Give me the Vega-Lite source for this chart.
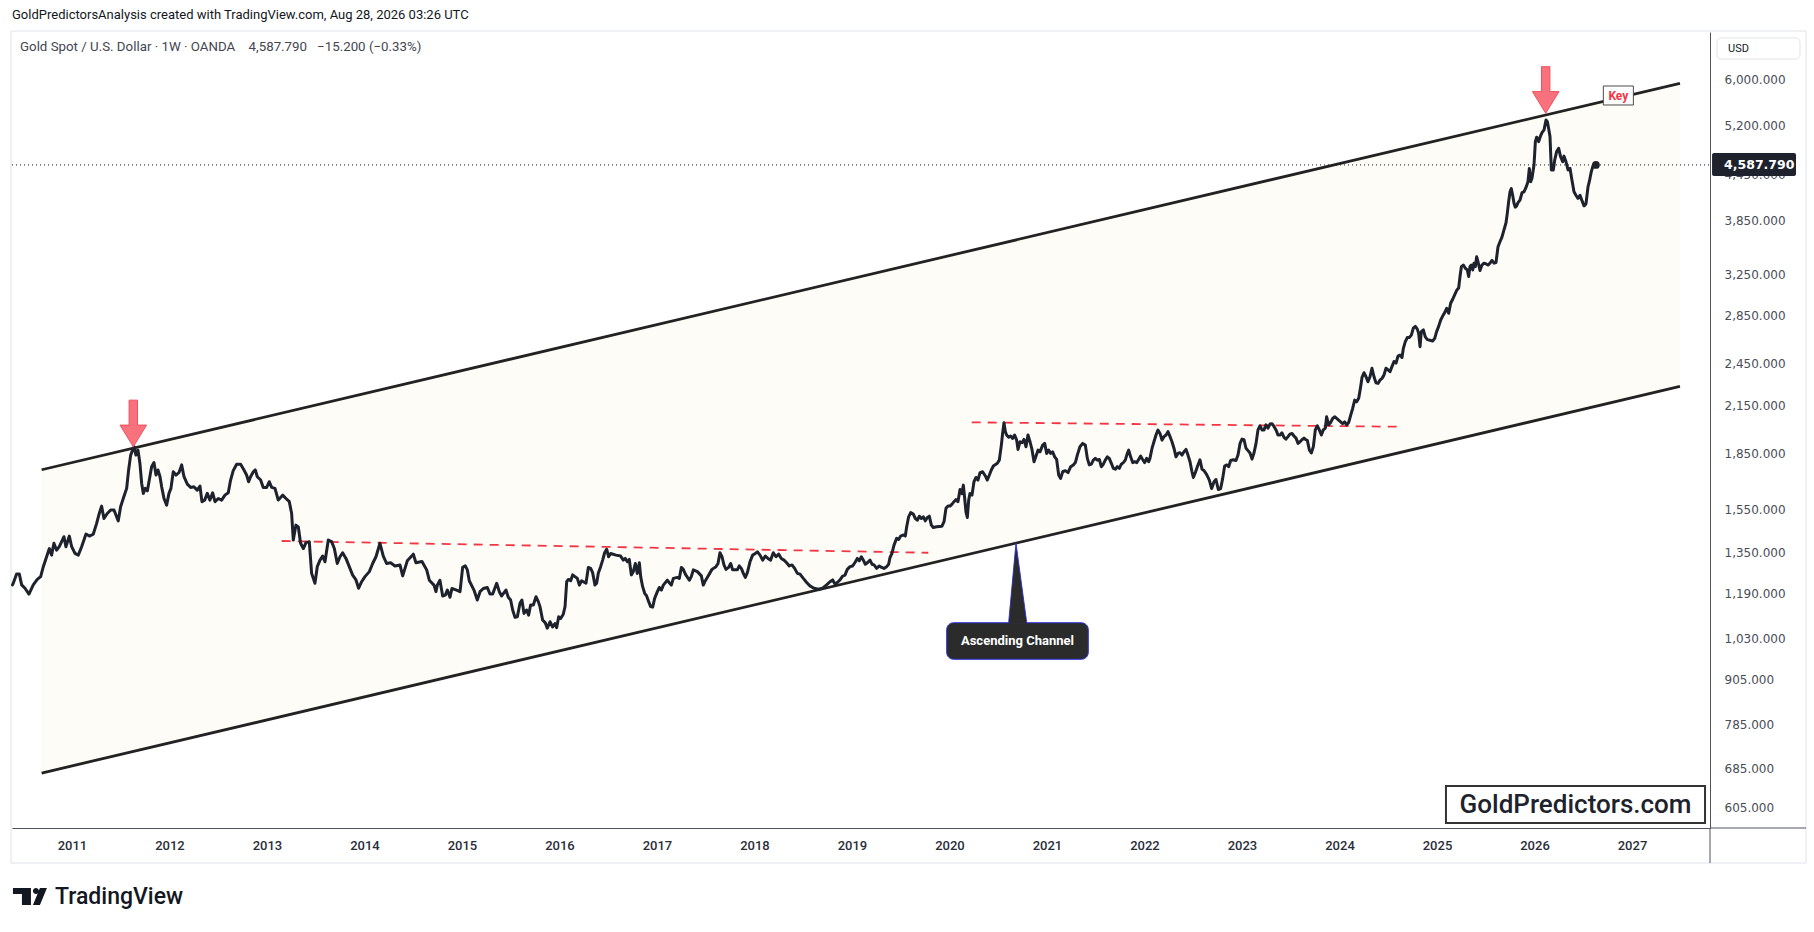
{
  "$schema": "https://vega.github.io/schema/vega-lite/v6.json",
  "width": 1698,
  "height": 796,
  "autosize": {"type": "none"},
  "padding": {"left": 12, "top": 32, "right": 104, "bottom": 104},
  "background": "#ffffff",
  "title": {
    "text": "GoldPredictorsAnalysis created with TradingView.com, Aug 28, 2026 03:26 UTC",
    "anchor": "start", "frame": "group", "offset": 9,
    "font": "Roboto", "fontSize": 13, "fontWeight": "normal", "color": "#131722"
  },
  "config": {"view": {"stroke": null}},
  "encoding": {
    "x": {"field": "year", "type": "quantitative",
      "scale": {"domain": [2010.385, 2027.8], "nice": false, "zero": false},
      "axis": {"title": null, "values": [2011,2012,2013,2014,2015,2016,2017,2018,2019,2020,2021,2022,2023,2024,2025,2026,2027],
        "format": "d", "grid": false, "ticks": false, "domainColor": "#50535e", "domainWidth": 1,
        "labelPadding": 11, "labelFont": "Roboto", "labelFontSize": 13, "labelFontWeight": 500,
        "labelColor": "#2a2e39", "labelFlush": false, "labelOverlap": false}},
    "y": {"field": "price", "type": "quantitative",
      "scale": {"type": "log", "domain": [567.3, 6976], "nice": false},
      "axis": {"title": null, "orient": "right", "values": [6000,5200,4450,3850,3250,2850,2450,2150,1850,1550,1350,1190,1030,905,785,685,605],
        "format": ",.3f", "grid": false, "ticks": false, "domainColor": "#50535e", "domainWidth": 1,
        "labelPadding": 14, "labelFont": "DejaVu Sans", "labelFontSize": 12, "labelColor": "#4a4d57",
        "labelAlign": "left", "labelOverlap": false, "labelFlush": false}}
  },
  "layer": [
    {
      "data": {"values": [{"year": 2010.375, "year2": 2028.785, "price": 6998, "price2": 508}]},
      "mark": {"type": "rect", "fill": "transparent", "stroke": "#e0e3eb", "strokeWidth": 1},
      "encoding": {"x2": {"field": "year2"}, "y2": {"field": "price2"}}
    },
    {
      "data": {"values": [{"year": 2010.689, "price": 1755, "price2": 674.6}, {"year": 2027.492, "price": 5934, "price2": 2282}]},
      "mark": {"type": "area", "color": "#fefcf7", "opacity": 1},
      "encoding": {"y2": {"field": "price2"}}
    },
    {
      "data": {"values": [
        {"edge": "upper", "year": 2010.689, "price": 1755}, {"edge": "upper", "year": 2027.492, "price": 5934},
        {"edge": "lower", "year": 2010.689, "price": 674.6}, {"edge": "lower", "year": 2027.492, "price": 2282}]},
      "mark": {"type": "line", "color": "#222222", "strokeWidth": 2.8},
      "encoding": {"detail": {"field": "edge"}}
    },
    {
      "data": {"values": [
        {"seg": "a", "year": 2013.151, "price": 1402}, {"seg": "a", "year": 2019.783, "price": 1351},
        {"seg": "b", "year": 2020.228, "price": 2038}, {"seg": "b", "year": 2024.603, "price": 2010}]},
      "mark": {"type": "line", "color": "#f23645", "strokeWidth": 1.8, "strokeDash": [9, 7]},
      "encoding": {"detail": {"field": "seg"}}
    },
    {
      "data": {"values": [{"year": 2010.385, "year2": 2027.8, "price": 4587.79}]},
      "mark": {"type": "rule", "color": "#131722", "strokeWidth": 1, "strokeDash": [1, 3]},
      "encoding": {"x2": {"field": "year2"}}
    },
    {
      "data": {"values": [
{"year":2010.39,"price":1221},{"year":2010.398,"price":1227},{"year":2010.432,"price":1263},{"year":2010.46,"price":1263},{"year":2010.484,"price":1221},{"year":2010.518,"price":1208},{"year":2010.559,"price":1186},{"year":2010.603,"price":1221},{"year":2010.644,"price":1242},{"year":2010.679,"price":1253},{"year":2010.706,"price":1293},{"year":2010.74,"price":1334},{"year":2010.768,"price":1369},{"year":2010.791,"price":1341},{"year":2010.815,"price":1392},{"year":2010.843,"price":1362},{"year":2010.87,"price":1377},{"year":2010.894,"price":1399},{"year":2010.918,"price":1421},{"year":2010.938,"price":1377},{"year":2010.973,"price":1424},{"year":2010.997,"price":1377},{"year":2011.031,"price":1348},{"year":2011.065,"price":1341},{"year":2011.099,"price":1377},{"year":2011.144,"price":1433},{"year":2011.178,"price":1424},{"year":2011.219,"price":1433},{"year":2011.253,"price":1482},{"year":2011.28,"price":1529},{"year":2011.304,"price":1565},{"year":2011.328,"price":1505},{"year":2011.362,"price":1529},{"year":2011.397,"price":1546},{"year":2011.431,"price":1546},{"year":2011.458,"price":1513},{"year":2011.475,"price":1494},{"year":2011.499,"price":1562},{"year":2011.526,"price":1603},{"year":2011.561,"price":1655},{"year":2011.581,"price":1754},{"year":2011.602,"price":1838},{"year":2011.622,"price":1867},{"year":2011.639,"price":1887},{"year":2011.656,"price":1838},{"year":2011.677,"price":1867},{"year":2011.697,"price":1791},{"year":2011.715,"price":1681},{"year":2011.732,"price":1629},{"year":2011.752,"price":1655},{"year":2011.773,"price":1642},{"year":2011.793,"price":1699},{"year":2011.817,"price":1772},{"year":2011.841,"price":1795},{"year":2011.862,"price":1726},{"year":2011.882,"price":1754},{"year":2011.903,"price":1717},{"year":2011.92,"price":1663},{"year":2011.944,"price":1603},{"year":2011.971,"price":1570},{"year":2011.995,"price":1629},{"year":2012.015,"price":1655},{"year":2012.039,"price":1744},{"year":2012.067,"price":1726},{"year":2012.097,"price":1739},{"year":2012.125,"price":1782},{"year":2012.149,"price":1717},{"year":2012.183,"price":1677},{"year":2012.217,"price":1660},{"year":2012.251,"price":1663},{"year":2012.285,"price":1646},{"year":2012.313,"price":1667},{"year":2012.333,"price":1587},{"year":2012.361,"price":1595},{"year":2012.388,"price":1629},{"year":2012.415,"price":1595},{"year":2012.443,"price":1632},{"year":2012.467,"price":1587},{"year":2012.501,"price":1603},{"year":2012.535,"price":1595},{"year":2012.569,"price":1620},{"year":2012.603,"price":1632},{"year":2012.627,"price":1699},{"year":2012.654,"price":1750},{"year":2012.689,"price":1786},{"year":2012.73,"price":1786},{"year":2012.764,"price":1754},{"year":2012.791,"price":1726},{"year":2012.812,"price":1690},{"year":2012.832,"price":1717},{"year":2012.86,"price":1744},{"year":2012.88,"price":1754},{"year":2012.901,"price":1717},{"year":2012.935,"price":1699},{"year":2012.962,"price":1660},{"year":2012.997,"price":1660},{"year":2013.024,"price":1690},{"year":2013.048,"price":1660},{"year":2013.082,"price":1655},{"year":2013.116,"price":1595},{"year":2013.161,"price":1620},{"year":2013.195,"price":1603},{"year":2013.229,"price":1587},{"year":2013.253,"price":1529},{"year":2013.27,"price":1406},{"year":2013.297,"price":1474},{"year":2013.321,"price":1466},{"year":2013.345,"price":1392},{"year":2013.373,"price":1369},{"year":2013.4,"price":1395},{"year":2013.434,"price":1399},{"year":2013.458,"price":1266},{"year":2013.492,"price":1227},{"year":2013.516,"price":1293},{"year":2013.544,"price":1320},{"year":2013.571,"price":1337},{"year":2013.595,"price":1313},{"year":2013.629,"price":1406},{"year":2013.663,"price":1399},{"year":2013.691,"price":1369},{"year":2013.721,"price":1306},{"year":2013.749,"price":1334},{"year":2013.776,"price":1351},{"year":2013.81,"price":1327},{"year":2013.844,"price":1293},{"year":2013.879,"price":1259},{"year":2013.913,"price":1240},{"year":2013.94,"price":1208},{"year":2013.971,"price":1233},{"year":2014.005,"price":1253},{"year":2014.05,"price":1273},{"year":2014.084,"price":1306},{"year":2014.118,"price":1334},{"year":2014.159,"price":1392},{"year":2014.193,"price":1337},{"year":2014.227,"price":1306},{"year":2014.268,"price":1309},{"year":2014.313,"price":1296},
{"year":2014.364,"price":1300},{"year":2014.392,"price":1256},{"year":2014.439,"price":1317},{"year":2014.501,"price":1345},{"year":2014.528,"price":1309},{"year":2014.59,"price":1314},{"year":2014.638,"price":1280},{"year":2014.665,"price":1239},{"year":2014.713,"price":1220},{"year":2014.733,"price":1195},{"year":2014.747,"price":1220},{"year":2014.774,"price":1239},{"year":2014.802,"price":1179},{"year":2014.829,"price":1182},{"year":2014.85,"price":1201},{"year":2014.877,"price":1174},{"year":2014.897,"price":1207},{"year":2014.945,"price":1201},{"year":2014.98,"price":1195},{"year":2015.007,"price":1290},{"year":2015.034,"price":1296},{"year":2015.055,"price":1280},{"year":2015.075,"price":1237},{"year":2015.123,"price":1201},{"year":2015.157,"price":1164},{"year":2015.185,"price":1195},{"year":2015.219,"price":1207},{"year":2015.26,"price":1211},{"year":2015.287,"price":1186},{"year":2015.315,"price":1186},{"year":2015.356,"price":1227},{"year":2015.383,"price":1195},{"year":2015.407,"price":1179},{"year":2015.451,"price":1201},{"year":2015.475,"price":1174},{"year":2015.499,"price":1164},{"year":2015.52,"price":1128},{"year":2015.544,"price":1102},{"year":2015.568,"price":1104},{"year":2015.595,"price":1152},{"year":2015.615,"price":1164},{"year":2015.636,"price":1116},{"year":2015.663,"price":1128},{"year":2015.684,"price":1110},{"year":2015.704,"price":1146},{"year":2015.732,"price":1146},{"year":2015.759,"price":1176},{"year":2015.783,"price":1158},{"year":2015.8,"price":1140},{"year":2015.827,"price":1093},{"year":2015.855,"price":1083},{"year":2015.875,"price":1065},{"year":2015.903,"price":1087},{"year":2015.93,"price":1069},{"year":2015.954,"price":1081},{"year":2015.971,"price":1067},{"year":2015.992,"price":1104},{"year":2016.012,"price":1098},{"year":2016.039,"price":1113},{"year":2016.057,"price":1140},{"year":2016.074,"price":1233},{"year":2016.091,"price":1242},{"year":2016.115,"price":1237},{"year":2016.135,"price":1260},{"year":2016.159,"price":1253},{"year":2016.183,"price":1246},{"year":2016.204,"price":1220},{"year":2016.227,"price":1237},{"year":2016.272,"price":1227},{"year":2016.296,"price":1290},{"year":2016.32,"price":1286},{"year":2016.34,"price":1269},{"year":2016.364,"price":1220},{"year":2016.381,"price":1227},{"year":2016.398,"price":1266},{"year":2016.422,"price":1293},{"year":2016.443,"price":1320},{"year":2016.463,"price":1351},{"year":2016.484,"price":1366},{"year":2016.504,"price":1334},{"year":2016.525,"price":1348},{"year":2016.58,"price":1341},{"year":2016.627,"price":1337},{"year":2016.655,"price":1320},{"year":2016.675,"price":1327},{"year":2016.696,"price":1313},{"year":2016.716,"price":1323},{"year":2016.737,"price":1260},{"year":2016.757,"price":1273},{"year":2016.778,"price":1306},{"year":2016.798,"price":1266},{"year":2016.819,"price":1309},{"year":2016.833,"price":1253},{"year":2016.853,"price":1214},{"year":2016.874,"price":1189},{"year":2016.894,"price":1179},{"year":2016.915,"price":1158},{"year":2016.935,"price":1140},{"year":2016.956,"price":1138},{"year":2016.976,"price":1170},{"year":2017.004,"price":1195},{"year":2017.024,"price":1211},{"year":2017.045,"price":1201},{"year":2017.065,"price":1220},{"year":2017.106,"price":1239},{"year":2017.127,"price":1229},{"year":2017.147,"price":1220},{"year":2017.168,"price":1246},{"year":2017.209,"price":1250},{"year":2017.229,"price":1246},{"year":2017.25,"price":1290},{"year":2017.27,"price":1282},{"year":2017.291,"price":1263},{"year":2017.332,"price":1239},{"year":2017.352,"price":1253},{"year":2017.373,"price":1280},{"year":2017.414,"price":1273},{"year":2017.455,"price":1256},{"year":2017.475,"price":1220},{"year":2017.496,"price":1237},{"year":2017.516,"price":1250},{"year":2017.564,"price":1282},{"year":2017.605,"price":1293},{"year":2017.626,"price":1306},{"year":2017.646,"price":1351},{"year":2017.667,"price":1334},{"year":2017.687,"price":1300},{"year":2017.708,"price":1282},{"year":2017.735,"price":1290},{"year":2017.756,"price":1306},{"year":2017.776,"price":1280},{"year":2017.824,"price":1280},{"year":2017.844,"price":1296},{"year":2017.865,"price":1286},{"year":2017.886,"price":1266},{"year":2017.906,"price":1250},{"year":2017.927,"price":1269},{"year":2017.954,"price":1313},{"year":2017.981,"price":1341},{"year":2018.009,"price":1348},{"year":2018.029,"price":1355},{"year":2018.057,"price":1341},{"year":2018.084,"price":1320},{"year":2018.111,"price":1337},{"year":2018.138,"price":1327},{"year":2018.166,"price":1320},{"year":2018.193,"price":1351},{"year":2018.221,"price":1334},{"year":2018.248,"price":1345},{"year":2018.275,"price":1327},{"year":2018.303,"price":1320},{"year":2018.33,"price":1309},{"year":2018.357,"price":1296},{"year":2018.385,"price":1300},{"year":2018.412,"price":1286},{"year":2018.44,"price":1266},
{"year":2018.467,"price":1263},{"year":2018.501,"price":1246},{"year":2018.535,"price":1230},{"year":2018.569,"price":1217},{"year":2018.61,"price":1208},{"year":2018.655,"price":1204},{"year":2018.699,"price":1208},{"year":2018.74,"price":1221},{"year":2018.774,"price":1233},{"year":2018.802,"price":1240},{"year":2018.826,"price":1224},{"year":2018.85,"price":1230},{"year":2018.877,"price":1240},{"year":2018.904,"price":1255},{"year":2018.928,"price":1259},{"year":2018.952,"price":1282},{"year":2018.98,"price":1293},{"year":2019.007,"price":1296},{"year":2019.031,"price":1310},{"year":2019.055,"price":1327},{"year":2019.075,"price":1317},{"year":2019.096,"price":1334},{"year":2019.116,"price":1320},{"year":2019.137,"price":1303},{"year":2019.161,"price":1310},{"year":2019.185,"price":1320},{"year":2019.205,"price":1303},{"year":2019.226,"price":1300},{"year":2019.253,"price":1286},{"year":2019.28,"price":1296},{"year":2019.304,"price":1290},{"year":2019.328,"price":1286},{"year":2019.356,"price":1293},{"year":2019.376,"price":1303},{"year":2019.39,"price":1331},{"year":2019.41,"price":1348},{"year":2019.431,"price":1384},{"year":2019.458,"price":1414},{"year":2019.479,"price":1409},{"year":2019.499,"price":1424},{"year":2019.527,"price":1429},{"year":2019.547,"price":1424},{"year":2019.561,"price":1466},{"year":2019.581,"price":1513},{"year":2019.602,"price":1533},{"year":2019.629,"price":1526},{"year":2019.65,"price":1505},{"year":2019.67,"price":1497},{"year":2019.691,"price":1516},{"year":2019.711,"price":1505},{"year":2019.732,"price":1513},{"year":2019.752,"price":1494},{"year":2019.773,"price":1510},{"year":2019.793,"price":1516},{"year":2019.814,"price":1474},{"year":2019.834,"price":1463},{"year":2019.868,"price":1466},{"year":2019.923,"price":1469},{"year":2019.944,"price":1490},{"year":2019.964,"price":1554},{"year":2019.985,"price":1565},{"year":2020.005,"price":1565},{"year":2020.026,"price":1575},{"year":2020.046,"price":1587},{"year":2020.067,"price":1598},{"year":2020.087,"price":1587},{"year":2020.108,"price":1649},{"year":2020.128,"price":1628},{"year":2020.142,"price":1672},{"year":2020.156,"price":1603},{"year":2020.169,"price":1537},{"year":2020.183,"price":1510},{"year":2020.197,"price":1595},{"year":2020.21,"price":1628},{"year":2020.231,"price":1620},{"year":2020.251,"price":1690},{"year":2020.272,"price":1713},{"year":2020.292,"price":1699},{"year":2020.313,"price":1739},{"year":2020.34,"price":1744},{"year":2020.368,"price":1721},{"year":2020.388,"price":1699},{"year":2020.409,"price":1726},{"year":2020.429,"price":1754},{"year":2020.45,"price":1776},{"year":2020.491,"price":1791},{"year":2020.511,"price":1809},{"year":2020.532,"price":1897},{"year":2020.545,"price":1968},{"year":2020.559,"price":2035},{"year":2020.573,"price":1979},{"year":2020.586,"price":1958},{"year":2020.607,"price":1944},{"year":2020.627,"price":1952},{"year":2020.648,"price":1937},{"year":2020.668,"price":1958},{"year":2020.689,"price":1927},{"year":2020.703,"price":1871},{"year":2020.723,"price":1917},{"year":2020.744,"price":1911},{"year":2020.764,"price":1931},{"year":2020.785,"price":1887},{"year":2020.805,"price":1958},{"year":2020.826,"price":1917},{"year":2020.846,"price":1871},{"year":2020.867,"price":1800},{"year":2020.887,"price":1832},{"year":2020.908,"price":1867},{"year":2020.928,"price":1857},{"year":2020.956,"price":1897},{"year":2020.976,"price":1907},{"year":2020.997,"price":1848},{"year":2021.017,"price":1867},{"year":2021.038,"price":1848},{"year":2021.058,"price":1857},{"year":2021.079,"price":1828},{"year":2021.099,"price":1813},{"year":2021.12,"price":1726},{"year":2021.14,"price":1708},{"year":2021.161,"price":1744},{"year":2021.188,"price":1750},{"year":2021.216,"price":1739},{"year":2021.243,"price":1772},{"year":2021.27,"price":1782},{"year":2021.291,"price":1795},{"year":2021.311,"price":1838},{"year":2021.338,"price":1887},{"year":2021.366,"price":1907},{"year":2021.393,"price":1897},{"year":2021.414,"price":1819},{"year":2021.434,"price":1782},{"year":2021.455,"price":1786},{"year":2021.475,"price":1809},{"year":2021.496,"price":1819},{"year":2021.516,"price":1809},{"year":2021.537,"price":1813},{"year":2021.557,"price":1772},{"year":2021.578,"price":1786},{"year":2021.598,"price":1809},{"year":2021.619,"price":1828},{"year":2021.639,"price":1819},{"year":2021.66,"price":1791},{"year":2021.68,"price":1763},{"year":2021.701,"price":1758},{"year":2021.721,"price":1772},{"year":2021.742,"price":1763},{"year":2021.762,"price":1786},{"year":2021.783,"price":1795},{"year":2021.803,"price":1809},{"year":2021.824,"price":1848},{"year":2021.838,"price":1867},{"year":2021.858,"price":1828},{"year":2021.879,"price":1795},{"year":2021.899,"price":1800},{"year":2021.92,"price":1795},{"year":2021.94,"price":1813},{"year":2021.961,"price":1832},{"year":2021.981,"price":1813},{"year":2022.002,"price":1795},{"year":2022.022,"price":1819},{"year":2022.043,"price":1800},{"year":2022.056,"price":1819},{"year":2022.077,"price":1877},{"year":2022.097,"price":1917},{"year":2022.118,"price":1958},{"year":2022.138,"price":1989},{"year":2022.159,"price":1968},{"year":2022.18,"price":1927},{"year":2022.2,"price":1948},{"year":2022.221,"price":1958},{"year":2022.241,"price":1979},{"year":2022.262,"price":1948},{"year":2022.282,"price":1917},{"year":2022.303,"price":1877},{"year":2022.323,"price":1828},{"year":2022.344,"price":1848},{"year":2022.364,"price":1852},{"year":2022.385,"price":1838},{"year":2022.405,"price":1857},{"year":2022.426,"price":1871},{"year":2022.446,"price":1838},{"year":2022.467,"price":1800},{"year":2022.487,"price":1744},{"year":2022.501,"price":1713},{"year":2022.521,"price":1739},{"year":2022.542,"price":1772},
{"year":2022.569,"price":1811},{"year":2022.59,"price":1758},{"year":2022.61,"price":1751},{"year":2022.638,"price":1728},{"year":2022.665,"price":1699},{"year":2022.689,"price":1654},{"year":2022.713,"price":1690},{"year":2022.733,"price":1702},{"year":2022.757,"price":1649},{"year":2022.781,"price":1654},{"year":2022.802,"price":1708},{"year":2022.822,"price":1776},{"year":2022.843,"price":1782},{"year":2022.863,"price":1772},{"year":2022.884,"price":1807},{"year":2022.911,"price":1811},{"year":2022.938,"price":1807},{"year":2022.959,"price":1839},{"year":2022.98,"price":1907},{"year":2023.0,"price":1933},{"year":2023.021,"price":1929},{"year":2023.041,"price":1878},{"year":2023.062,"price":1864},{"year":2023.082,"price":1850},{"year":2023.103,"price":1815},{"year":2023.123,"price":1850},{"year":2023.144,"price":1907},{"year":2023.164,"price":1990},{"year":2023.185,"price":2016},{"year":2023.205,"price":1990},{"year":2023.226,"price":1990},{"year":2023.246,"price":2022},{"year":2023.267,"price":2001},{"year":2023.287,"price":2027},{"year":2023.308,"price":2029},{"year":2023.328,"price":2012},{"year":2023.349,"price":1990},{"year":2023.369,"price":1958},{"year":2023.39,"price":1958},{"year":2023.41,"price":1972},{"year":2023.431,"price":1944},{"year":2023.451,"price":1933},{"year":2023.472,"price":1948},{"year":2023.492,"price":1964},{"year":2023.513,"price":1968},{"year":2023.533,"price":1952},{"year":2023.554,"price":1939},{"year":2023.575,"price":1907},{"year":2023.595,"price":1917},{"year":2023.615,"price":1929},{"year":2023.636,"price":1939},{"year":2023.656,"price":1929},{"year":2023.67,"price":1925},{"year":2023.691,"price":1868},{"year":2023.711,"price":1850},{"year":2023.732,"price":1888},{"year":2023.752,"price":1990},{"year":2023.773,"price":2016},{"year":2023.793,"price":1990},{"year":2023.814,"price":1958},{"year":2023.834,"price":1990},{"year":2023.855,"price":2001},{"year":2023.868,"price":2074},{"year":2023.889,"price":2022},{"year":2023.909,"price":2037},{"year":2023.93,"price":2063},{"year":2023.95,"price":2074},{"year":2023.971,"price":2063},{"year":2023.991,"price":2052},{"year":2024.012,"price":2041},{"year":2024.032,"price":2030},{"year":2024.053,"price":2041},{"year":2024.074,"price":2022},{"year":2024.094,"price":2037},{"year":2024.115,"price":2085},{"year":2024.135,"price":2129},{"year":2024.156,"price":2186},{"year":2024.176,"price":2174},{"year":2024.197,"price":2198},{"year":2024.217,"price":2280},{"year":2024.231,"price":2348},{"year":2024.251,"price":2383},{"year":2024.272,"price":2353},{"year":2024.292,"price":2316},{"year":2024.313,"price":2353},{"year":2024.333,"price":2417},{"year":2024.354,"price":2353},{"year":2024.374,"price":2309},{"year":2024.395,"price":2304},{"year":2024.415,"price":2328},{"year":2024.436,"price":2341},{"year":2024.456,"price":2365},{"year":2024.477,"price":2417},{"year":2024.498,"price":2404},{"year":2024.518,"price":2391},{"year":2024.538,"price":2429},{"year":2024.559,"price":2469},{"year":2024.58,"price":2456},{"year":2024.6,"price":2511},{"year":2024.62,"price":2519},{"year":2024.641,"price":2500},{"year":2024.655,"price":2573},{"year":2024.675,"price":2628},{"year":2024.696,"price":2663},{"year":2024.716,"price":2663},{"year":2024.737,"price":2683},{"year":2024.757,"price":2743},{"year":2024.778,"price":2758},{"year":2024.798,"price":2734},{"year":2024.812,"price":2698},{"year":2024.826,"price":2587},{"year":2024.839,"price":2713},{"year":2024.86,"price":2728},{"year":2024.88,"price":2668},{"year":2024.901,"price":2645},{"year":2024.928,"price":2640},{"year":2024.955,"price":2634},{"year":2024.976,"price":2654},{"year":2024.996,"price":2713},{"year":2025.017,"price":2758},{"year":2025.037,"price":2812},{"year":2025.058,"price":2849},{"year":2025.079,"price":2880},{"year":2025.099,"price":2920},{"year":2025.12,"price":2874},{"year":2025.14,"price":2966},{"year":2025.161,"price":3004},{"year":2025.181,"price":3046},{"year":2025.202,"price":3090},{"year":2025.222,"price":3112},{"year":2025.236,"price":3227},{"year":2025.25,"price":3329},{"year":2025.27,"price":3346},{"year":2025.291,"price":3312},{"year":2025.311,"price":3295},{"year":2025.325,"price":3227},{"year":2025.338,"price":3329},{"year":2025.352,"price":3346},{"year":2025.366,"price":3295},{"year":2025.379,"price":3366},{"year":2025.393,"price":3329},{"year":2025.407,"price":3434},{"year":2025.42,"price":3384},{"year":2025.441,"price":3289},{"year":2025.461,"price":3346},{"year":2025.482,"price":3366},{"year":2025.503,"price":3358},{"year":2025.523,"price":3346},{"year":2025.544,"price":3366},{"year":2025.564,"price":3395},{"year":2025.585,"price":3366},{"year":2025.605,"price":3373},{"year":2025.626,"price":3545},{"year":2025.646,"price":3601},{"year":2025.667,"price":3656},{"year":2025.687,"price":3739},{"year":2025.708,"price":3823},{"year":2025.721,"price":3938},{"year":2025.735,"price":4086},{"year":2025.749,"price":4215},{"year":2025.762,"price":4260},{"year":2025.776,"price":4170},{"year":2025.79,"price":4065},{"year":2025.803,"price":4016},{"year":2025.817,"price":4033},{"year":2025.831,"price":4074},{"year":2025.851,"price":4107},{"year":2025.872,"price":4203},{"year":2025.892,"price":4215},{"year":2025.913,"price":4274},{"year":2025.933,"price":4352},{"year":2025.947,"price":4537},{"year":2025.961,"price":4352},{"year":2025.974,"price":4398},{"year":2025.995,"price":4587},{"year":2026.009,"price":4938},{"year":2026.022,"price":5007},{"year":2026.043,"price":4938},{"year":2026.057,"price":5007},{"year":2026.077,"price":5079},{"year":2026.098,"price":5124},{"year":2026.118,"price":5286},{"year":2026.132,"price":5258},{"year":2026.145,"price":5146},{"year":2026.159,"price":5017},{"year":2026.173,"price":4516},{"year":2026.193,"price":4516},{"year":2026.207,"price":4658},{"year":2026.227,"price":4784},{"year":2026.248,"price":4834},{"year":2026.268,"price":4707},{"year":2026.289,"price":4634},{"year":2026.302,"price":4717},{"year":2026.323,"price":4634},{"year":2026.344,"price":4516},{"year":2026.364,"price":4539},{"year":2026.384,"price":4375},{"year":2026.405,"price":4215},{"year":2026.425,"price":4170},{"year":2026.446,"price":4129},{"year":2026.467,"price":4170},{"year":2026.487,"price":4099},{"year":2026.508,"price":4033},{"year":2026.528,"price":4058},{"year":2026.549,"price":4283},{"year":2026.562,"price":4352},{"year":2026.583,"price":4493},{"year":2026.603,"price":4587},{"year":2026.63,"price":4587.79}
      ]},
      "mark": {"type": "line", "color": "#1e222d", "strokeWidth": 3, "strokeJoin": "round", "strokeCap": "round"}
    },
    {
      "data": {"values": [{"year": 2026.63, "price": 4587.79}]},
      "mark": {"type": "point", "filled": true, "color": "#1e222d", "size": 60, "opacity": 1}
    },
    {
      "data": {"values": [{"year": 2011.629, "price": 1887}, {"year": 2026.115, "price": 5399}]},
      "mark": {"type": "point", "shape": "M -0.18 -2 L 0.18 -2 L 0.18 -0.93 L 0.57 -0.93 L 0 0 L -0.57 -0.93 L -0.18 -0.93 Z",
        "size": 2172, "filled": true, "fill": "#f7727c", "stroke": "#f0505c", "strokeWidth": 1, "opacity": 1}
    },
    {
      "data": {"values": [{"year": 2020.607, "price": 1083.6, "price2": 1083.6}, {"year": 2020.682, "price": 1391.7, "price2": 1083.6}, {"year": 2020.792, "price": 1083.6, "price2": 1083.6}]},
      "mark": {"type": "area", "fill": "#2b2b2b", "stroke": "#3333dd", "strokeWidth": 1, "opacity": 1},
      "encoding": {"y2": {"field": "price2"}}
    },
    {
      "data": {"values": [{"year": 2019.971, "year2": 2021.424, "price": 1083.6, "price2": 965.5}]},
      "mark": {"type": "rect", "fill": "#2b2b2b", "stroke": "#3333dd", "strokeWidth": 1, "cornerRadius": 7},
      "encoding": {"x2": {"field": "year2"}, "y2": {"field": "price2"}}
    },
    {
      "data": {"values": [{"year": 2020.612, "price": 1081, "price2": 1081}, {"year": 2020.682, "price": 1370, "price2": 1081}, {"year": 2020.787, "price": 1081, "price2": 1081}]},
      "mark": {"type": "area", "fill": "#2b2b2b", "opacity": 1},
      "encoding": {"y2": {"field": "price2"}}
    },
    {
      "data": {"values": [{"year": 2020.697, "price": 1023, "label": "Ascending Channel"}]},
      "mark": {"type": "text", "color": "#ffffff", "font": "Roboto", "fontSize": 13, "fontWeight": "bold", "align": "center", "baseline": "middle"},
      "encoding": {"text": {"field": "label"}}
    },
    {
      "data": {"values": [{"year": 2026.706, "year2": 2027.014, "price": 5884, "price2": 5542}]},
      "mark": {"type": "rect", "fill": "#ffffff", "stroke": "#4a4a4a", "strokeWidth": 1},
      "encoding": {"x2": {"field": "year2"}, "y2": {"field": "price2"}}
    },
    {
      "data": {"values": [{"year": 2026.86, "price": 5710, "label": "Key"}]},
      "mark": {"type": "text", "color": "#f23645", "font": "Roboto", "fontSize": 12, "fontWeight": "bold", "align": "center", "baseline": "middle"},
      "encoding": {"text": {"field": "label"}}
    },
    {
      "data": {"values": [{"year": 2025.092, "year2": 2027.749, "price": 647.6, "price2": 576.4}]},
      "mark": {"type": "rect", "fill": "#ffffff", "stroke": "#333333", "strokeWidth": 2},
      "encoding": {"x2": {"field": "year2"}, "y2": {"field": "price2"}}
    },
    {
      "data": {"values": [{"year": 2026.421, "price": 610.8, "label": "GoldPredictors.com"}]},
      "mark": {"type": "text", "color": "#1e222d", "font": "Roboto", "fontSize": 26, "fontWeight": 500, "align": "center", "baseline": "middle"},
      "encoding": {"text": {"field": "label"}}
    },
    {
      "data": {"values": [{"year": 2010.467, "price": 6654, "label": "Gold Spot / U.S. Dollar · 1W · OANDA \u2002 4,587.790 \u2002−15.200 (−0.33%)"}]},
      "mark": {"type": "text", "color": "#434651", "font": "Roboto", "fontSize": 13.3, "align": "left", "baseline": "middle"},
      "encoding": {"text": {"field": "label"}}
    },
    {
      "data": {"values": [{"year": 2027.821, "year2": 2028.682, "price": 4764, "price2": 4431}]},
      "mark": {"type": "rect", "fill": "#1e222d", "cornerRadius": 2},
      "encoding": {"x2": {"field": "year2"}, "y2": {"field": "price2"}}
    },
    {
      "data": {"values": [{"year": 2027.944, "price": 4587.79, "label": "4,587.790"}]},
      "mark": {"type": "text", "color": "#ffffff", "font": "DejaVu Sans", "fontSize": 12.5, "fontWeight": 600, "align": "left", "baseline": "middle"},
      "encoding": {"text": {"field": "label"}}
    },
    {
      "data": {"values": [{"year": 2027.872, "year2": 2028.723, "price": 6845, "price2": 6407}]},
      "mark": {"type": "rect", "fill": "#ffffff", "stroke": "#e0e3eb", "strokeWidth": 1, "cornerRadius": 4},
      "encoding": {"x2": {"field": "year2"}, "y2": {"field": "price2"}}
    },
    {
      "data": {"values": [{"year": 2027.985, "price": 6622, "label": "USD"}]},
      "mark": {"type": "text", "color": "#131722", "font": "Roboto", "fontSize": 11, "align": "left", "baseline": "middle"},
      "encoding": {"text": {"field": "label"}}
    },
    {
      "data": {"values": [{"year": 2027.8, "year2": 2028.785, "price": 567.3, "price2": 567.3}, {"year": 2027.8, "year2": 2027.8, "price": 567.3, "price2": 508}]},
      "mark": {"type": "rule", "color": "#50535e", "strokeWidth": 1},
      "encoding": {"x2": {"field": "year2"}, "y2": {"field": "price2"}}
    },
    {
      "data": {"values": [{"year": 2010.569, "price": 457.1}]},
      "mark": {"type": "point", "shape": "M -2 -1 L 0.118 -1 L 0.118 1 L -0.941 1 L -0.941 -0.294 L -2 -0.294 Z M 0.353 -0.647 A 0.353 0.353 0 1 1 1.059 -0.647 A 0.353 0.353 0 1 1 0.353 -0.647 Z M 1.176 -1 L 2 -1 L 1.176 1 L 0.353 1 Z",
        "size": 289, "filled": true, "color": "#131722", "opacity": 1}
    },
    {
      "data": {"values": [{"year": 2010.826, "price": 457.1, "label": "TradingView"}]},
      "mark": {"type": "text", "color": "#131722", "font": "Roboto", "fontSize": 23, "fontWeight": 500, "align": "left", "baseline": "middle"},
      "encoding": {"text": {"field": "label"}}
    }
  ]
}
